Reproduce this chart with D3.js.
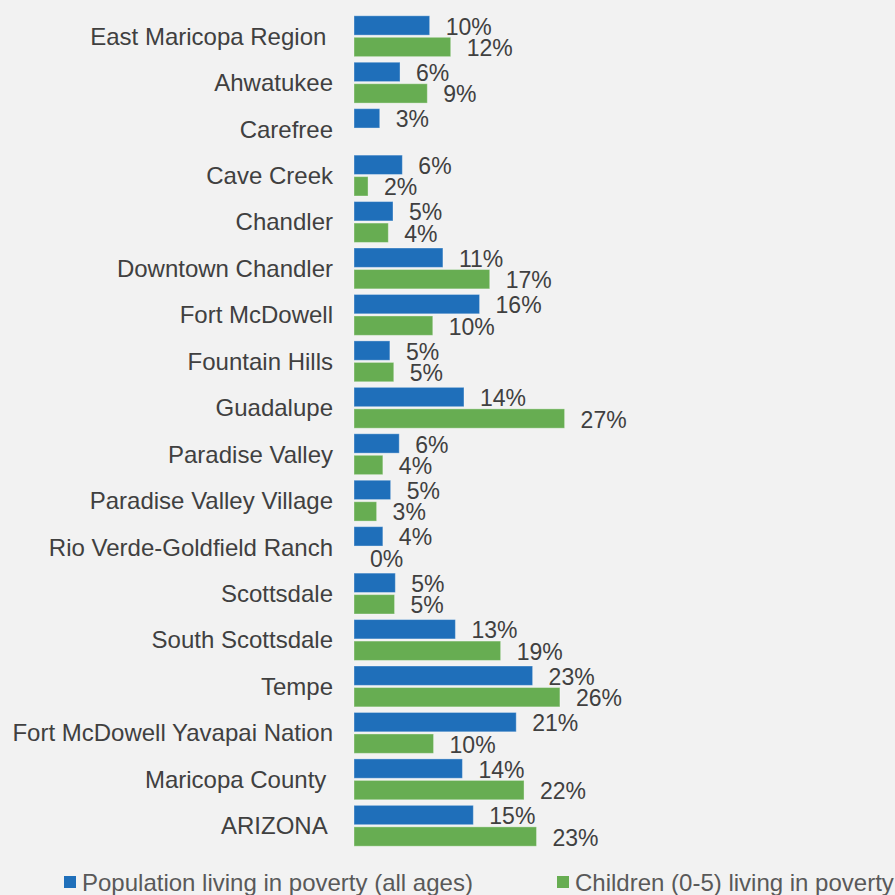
<!DOCTYPE html>
<html>
<head>
<meta charset="utf-8">
<script src="https://cdn.jsdelivr.net/npm/d3@7"></script>
<style>
  body { margin: 0; background: #f2f2f2; }
  svg { display: block; font-family: 'Liberation Sans', Arial, sans-serif; }
  .cat { white-space: pre; }
</style>
</head>
<body>
<div id="graf"></div>
<script>
const lugares = [
  'East Maricopa Region ', 'Ahwatukee', 'Carefree', 'Cave Creek', 'Chandler',
  'Downtown Chandler', 'Fort McDowell', 'Fountain Hills', 'Guadalupe',
  'Paradise Valley', 'Paradise Valley Village', 'Rio Verde-Goldfield Ranch',
  'Scottsdale', 'South Scottsdale', 'Tempe', 'Fort McDowell Yavapai Nation',
  'Maricopa County ', 'ARIZONA ',
]

// percent
const poblacion = [9.7, 5.9, 3.3, 6.2, 5.0, 11.4, 16.1, 4.6, 14.1, 5.8, 4.7, 3.7, 5.3, 13.0, 22.9, 20.8, 13.9, 15.3]
const ninos = [12.4, 9.4, null, 1.8, 4.4, 17.4, 10.1, 5.1, 27.0, 3.7, 2.9, 0, 5.2, 18.8, 26.4, 10.2, 21.8, 23.4]

const series = ['pob', 'nin']
const nombres = ['Population living in poverty (all ages)', 'Children (0-5) living in poverty']
const colores = ['#1f6fba', '#67ad52']

const anchoTotal = 895
const altoTotal = 895

const svg = d3.select('#graf')
  .append('svg')
  .attr('width', anchoTotal)
  .attr('height', altoTotal)

svg.append('rect')
  .attr('width', anchoTotal)
  .attr('height', altoTotal)
  .attr('fill', '#f2f2f2')

const datos = lugares.map((l, i) => ({ lugar: l, pob: poblacion[i], nin: ninos[i] }))

const x = d3.scaleLinear().domain([0, 30]).range([354, 588])
const y = d3.scaleBand().domain(lugares).range([13, 849]).paddingInner(0.12).paddingOuter(0.06)
const ySub = d3.scaleBand().domain(series).range([0, y.bandwidth()]).paddingInner(0.1)
const color = d3.scaleOrdinal().domain(series).range(colores)

const grupos = svg.selectAll('g.grupo')
  .data(datos)
  .enter()
  .append('g')
  .attr('class', 'grupo')
  .attr('transform', (d) => `translate(0, ${y(d.lugar)})`)

grupos.append('text')
  .attr('class', 'cat')
  .attr('x', 333)
  .attr('y', y.bandwidth() / 2)
  .attr('dy', '0.35em')
  .attr('text-anchor', 'end')
  .attr('font-size', 24)
  .attr('fill', '#404040')
  .text((d) => d.lugar)

const barras = grupos.selectAll('g.barra')
  .data((d) => series.map((s) => ({ s: s, v: d[s] })).filter((b) => b.v !== null))
  .enter()
  .append('g')
  .attr('class', 'barra')

barras.append('rect')
  .attr('x', x(0))
  .attr('y', (b) => ySub(b.s))
  .attr('width', (b) => x(b.v) - x(0))
  .attr('height', ySub.bandwidth())
  .attr('fill', (b) => color(b.s))
  .attr('stroke', '#ffffff')
  .attr('stroke-opacity', 0.35)
  .attr('stroke-width', 1)

barras.append('text')
  .attr('x', (b) => x(b.v) + 16)
  .attr('y', (b) => ySub(b.s) + ySub.bandwidth() / 2 + 1)
  .attr('dy', '0.35em')
  .attr('font-size', 23)
  .attr('fill', '#404040')
  .text((b) => Math.round(b.v) + '%')

// leyenda
const leyX = [64, 557]
const leyenda = svg.selectAll('g.ley')
  .data(series)
  .enter()
  .append('g')
  .attr('class', 'ley')
  .attr('transform', (d, i) => `translate(${leyX[i]}, 876)`)

leyenda.append('rect')
  .attr('width', 12)
  .attr('height', 12)
  .attr('fill', (d) => color(d))

leyenda.append('text')
  .attr('x', 18)
  .attr('y', 15)
  .attr('font-size', 24)
  .attr('fill', '#595959')
  .text((d, i) => nombres[i])
</script>
</body>
</html>
